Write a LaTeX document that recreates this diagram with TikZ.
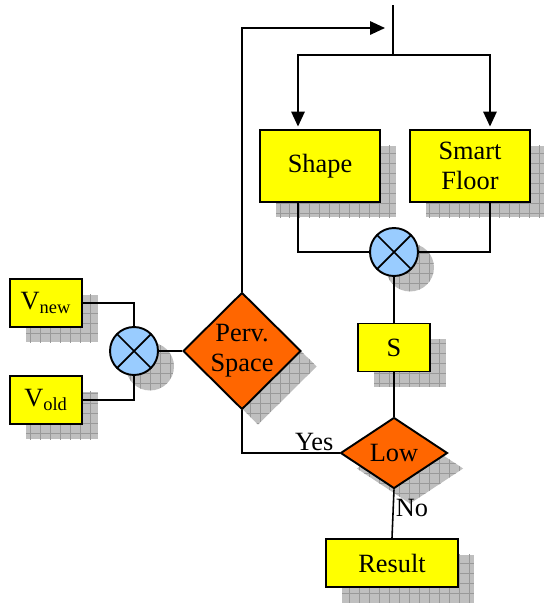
\documentclass[tikz,border=0pt]{standalone}
\usepackage{fontspec}
\setmainfont{Liberation Serif}
\usetikzlibrary{shapes.geometric,arrows.meta,positioning,shadows,patterns.meta}
\definecolor{boxyellow}{RGB}{255,255,0}
\definecolor{decorange}{RGB}{255,102,0}
\definecolor{mixblue}{RGB}{153,204,255}

\begin{document}
\begin{tikzpicture}[x=0.02cm, y=-0.02cm,
    every node/.style={font=\fontsize{15}{17}\selectfont},
    shade/.style={
        drop shadow={shadow xshift=0.32cm, shadow yshift=-0.31cm, opacity=1, fill=black!25},
        drop shadow={shadow xshift=0.32cm, shadow yshift=-0.31cm, opacity=1,
                     pattern={Hatch[angle=0, distance=0.2cm, line width=0.5pt]}, pattern color=black!40}},
    box/.style={rectangle, draw, line width=1.1pt, fill=boxyellow, shade,
                minimum width=1.44cm, minimum height=0.96cm, inner sep=0pt, align=center},
    decide/.style={diamond, draw, line width=1.1pt, fill=decorange, shade,
                   inner sep=0pt, align=center},
    mix/.style={circle, draw, line width=1.1pt, fill=mixblue, shade,
                minimum size=0.96cm, inner sep=0pt,
                path picture={\draw[line width=1pt] (path picture bounding box.north west) -- (path picture bounding box.south east)
                                                  (path picture bounding box.north east) -- (path picture bounding box.south west);}},
    arr/.style={-{Triangle[length=0.3cm, width=0.27cm]}, line width=0.9pt},
    wire/.style={line width=0.9pt},
]
    \useasboundingbox (0,0) rectangle (544,603);
    % inputs
    \node[box] (vnew) at (46,303) {V\textsubscript{new}};
    \node[box] (vold) at (46,400) {V\textsubscript{old}};
    \node[mix] (mixv) at (134,351) {};
    \node[decide, minimum width=2.36cm, minimum height=2.34cm] (perv) at (242,351) {Perv.\\Space};
    % top branch
    \coordinate (top) at (393,5);
    \coordinate (split) at (393,55);
    \coordinate (feed) at (385,28);
    \node[box, minimum width=2.4cm, minimum height=1.44cm] (shape) at (320,166) {Shape};
    \node[box, minimum width=2.4cm, minimum height=1.44cm] (floor) at (470,166) {Smart\\Floor};
    \node[mix] (mixs) at (394,252) {};
    \node[box] (s) at (394,347.5) {S};
    \node[decide, minimum width=2.14cm, minimum height=1.42cm] (low) at (394,453) {Low};
    \node[box, minimum width=2.64cm] (result) at (392,563) {Result};

    \draw[wire] (vnew.east) -| (mixv.north);
    \draw[wire] (vold.east) -| (mixv.south);
    \draw[wire] (mixv.east) -- (perv.west);
    \draw[arr] (perv.north) |- (feed);
    \draw[wire] (top) -- (split);
    \draw[arr, shorten >=0.05cm] (split) -| ([xshift=-0.44cm]shape.north);
    \draw[arr, shorten >=0.05cm] (split) -| ([xshift=0.4cm]floor.north);
    \draw[wire] ([xshift=-0.44cm]shape.south) |- (mixs.west);
    \draw[wire] ([xshift=0.4cm]floor.south) |- (mixs.east);
    \draw[wire] (mixs.south) -- (s.north);
    \draw[wire] (s.south) -- (low.north);
    % decision
    \draw[wire] (low.west) -| node[pos=0.13, above, inner sep=1pt]{Yes} (perv.south);
    \draw[wire] (low.south) -- node[pos=0.38, right, inner sep=1pt]{No} (result.north);
\end{tikzpicture}
\end{document}
